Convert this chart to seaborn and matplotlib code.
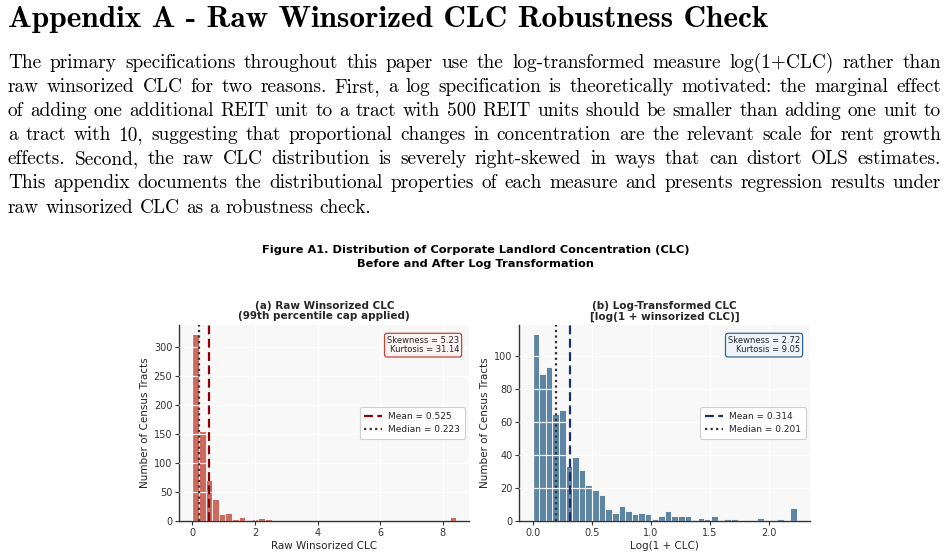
import numpy as np
import pandas as pd
import matplotlib
matplotlib.use("Agg")
import matplotlib.pyplot as plt
import seaborn as sns

# ---------------- data ----------------
n_bins = 40
raw_bin_range = (0.0, 8.43)
raw_counts = [321, 154, 71, 37, 12, 14, 4, 7, 2, 3, 5, 3, 2, 2, 0, 1, 0, 2, 0, 0,
              0, 0, 0, 0, 0, 0, 0, 0, 0, 0, 0, 0, 0, 0, 0, 0, 0, 0, 0, 7]
log_bin_range = (0.0, 2.236)
log_counts = [113, 89, 93, 65, 67, 33, 39, 31, 22, 19, 16, 7, 5, 9, 6, 4, 5, 4, 1, 3,
              6, 3, 3, 3, 0, 2, 1, 3, 0, 1, 1, 0, 0, 0, 2, 0, 0, 1, 0, 8]
raw_mean, raw_median = 0.525, 0.223
log_mean, log_median = 0.314, 0.201
raw_skew, raw_kurt = 5.23, 31.14
log_skew, log_kurt = 2.72, 9.05
raw_xticks = [0, 2, 4, 6, 8]
raw_yticks = [0, 50, 100, 150, 200, 250, 300]
log_xticks = [0.0, 0.5, 1.0, 1.5, 2.0]
log_yticks = [0, 20, 40, 60, 80, 100]

heading = "Appendix A - Raw Winsorized CLC Robustness Check"
para_lines = [
    "The primary specifications throughout this paper use the log-transformed measure log(1+CLC) rather than",
    "raw winsorized CLC for two reasons. First, a log specification is theoretically motivated: the marginal effect",
    "of adding one additional REIT unit to a tract with 500 REIT units should be smaller than adding one unit to",
    "a tract with 10, suggesting that proportional changes in concentration are the relevant scale for rent growth",
    "effects. Second, the raw CLC distribution is severely right-skewed in ways that can distort OLS estimates.",
    "This appendix documents the distributional properties of each measure and presents regression results under",
    "raw winsorized CLC as a robustness check.",
]
fig_title_1 = "Figure A1. Distribution of Corporate Landlord Concentration (CLC)"
fig_title_2 = "Before and After Log Transformation"
title_a = "(a) Raw Winsorized CLC\n(99th percentile cap applied)"
title_b = "(b) Log-Transformed CLC\n[log(1 + winsorized CLC)]"
xlabel_a = "Raw Winsorized CLC"
xlabel_b = "Log(1 + CLC)"
ylabel = "Number of Census Tracts"

# ---------------- style ----------------
sns.set_style("whitegrid", rc={
    "axes.facecolor": "#f8f8f8",
    "grid.color": "white",
    "axes.edgecolor": "#333333",
    "xtick.bottom": True,
    "ytick.left": True,
    "xtick.color": "#333333",
    "ytick.color": "#333333",
})

W, H = 947, 559
fig = plt.figure(figsize=(W / 100, H / 100), dpi=100)
renderer = fig.canvas.get_renderer()

SERIF = "cmr10"
SERIF_BOLD = "cmb10"


def fx(px):
    return px / W


def fy(py):
    return 1 - py / H


def text_w(s, fs, fam=SERIF):
    t = fig.text(0, 0, s, fontsize=fs, family=fam)
    w = t.get_window_extent(renderer).width
    t.remove()
    return w


# heading (bold Computer Modern)
hw = text_w(heading, 20, SERIF_BOLD)
hfs = 20 * 760 / hw
fig.text(fx(8), fy(27), heading, fontsize=hfs, family=SERIF_BOLD, va="baseline",
         ha="left", color="black")

# paragraph, justified
left, right = 8, 941
nat = [text_w(l, 10) for l in para_lines[:-1]]
pfs = 10 * (right - left) / max(nat) * 0.998
space_w = text_w("a b", pfs) - text_w("ab", pfs)
base0, lead = 68, 24.1
for i, line in enumerate(para_lines):
    words = line.split(" ")
    ws = [text_w(w_, pfs) for w_ in words]
    if i < len(para_lines) - 1:
        gap = (right - left - sum(ws)) / (len(words) - 1)
    else:
        gap = space_w
    x = left
    yb = base0 + lead * i
    for w_, ww in zip(words, ws):
        fig.text(fx(x), fy(yb), w_, fontsize=pfs, family=SERIF, va="baseline",
                 ha="left", color="black")
        x += ww + gap

# figure title
fig.text(0.502, fy(250), fig_title_1, ha="center", va="center", fontsize=8.2,
         fontweight="bold", color="black")
fig.text(0.502, fy(264), fig_title_2, ha="center", va="center", fontsize=8.2,
         fontweight="bold", color="black")

ax1 = fig.add_axes([fx(179.3), fy(521), fx(290), 196 / H])
ax2 = fig.add_axes([fx(519.3), fy(521), fx(291), 196 / H])

panels = [
    (ax1, raw_counts, raw_bin_range, "#c0392b", "#8b0000", raw_mean, raw_median,
     raw_skew, raw_kurt, "#c0392b", "#fdf3f2", title_a, xlabel_a, raw_xticks, raw_yticks, "{:g}"),
    (ax2, log_counts, log_bin_range, "#2c5f8a", "#1a2f6b", log_mean, log_median,
     log_skew, log_kurt, "#2c5f8a", "#eef4fa", title_b, xlabel_b, log_xticks, log_yticks, "{:.1f}"),
]

for (ax, counts, brange, col, mcol, mean, med, sk, ku, bcol, bface,
     title, xlabel, xt, yt, xfmt) in panels:
    edges = np.linspace(brange[0], brange[1], n_bins + 1)
    centers = (edges[:-1] + edges[1:]) / 2
    df = pd.DataFrame({"x": centers, "n": counts})
    sns.histplot(data=df, x="x", weights="n", bins=n_bins, binrange=brange, color=col, alpha=0.75,
                 edgecolor="white", linewidth=0.6, ax=ax)
    ax.set_axisbelow(False)
    ax.grid(True, color="white", linewidth=0.9, alpha=0.9)
    ax.axvline(mean, color=mcol, linestyle=(0, (4, 2)), linewidth=1.6, zorder=4,
               label=f"Mean = {mean:.3f}")
    ax.axvline(med, color="#333333", linestyle=(0, (1, 1.5)), linewidth=1.6, zorder=4,
               label=f"Median = {med:.3f}")
    ax.set_xticks(xt)
    ax.set_xticklabels([xfmt.format(v) for v in xt])
    ax.set_yticks(yt)
    ax.tick_params(axis="both", labelsize=7, length=3, width=0.8, pad=2)
    ax.set_xlabel(xlabel, fontsize=7.5, labelpad=2)
    ax.set_ylabel(ylabel, fontsize=7.5, labelpad=3)
    ax.set_title(title, fontsize=7.5, fontweight="bold", pad=4, linespacing=1.1)
    for s in ["top", "right"]:
        ax.spines[s].set_visible(False)
    for s in ["left", "bottom"]:
        ax.spines[s].set_color("#333333")
        ax.spines[s].set_linewidth(1.0)
    leg = ax.legend(loc="center right", fontsize=6.5, frameon=True, facecolor="white",
                    edgecolor="#cccccc", framealpha=0.9, handlelength=2.0,
                    borderpad=0.5, labelspacing=0.5, handletextpad=0.7)
    leg.get_frame().set_linewidth(0.8)
    ax.text(0.965, 0.945, f"Skewness = {sk:.2f}\nKurtosis = {ku:.2f}", transform=ax.transAxes,
            ha="right", va="top", fontsize=6, linespacing=1.1, zorder=6,
            bbox=dict(boxstyle="round,pad=0.3", facecolor=bface, edgecolor=bcol,
                      linewidth=0.9, alpha=0.95))

fig.savefig("out.png", dpi=100)
